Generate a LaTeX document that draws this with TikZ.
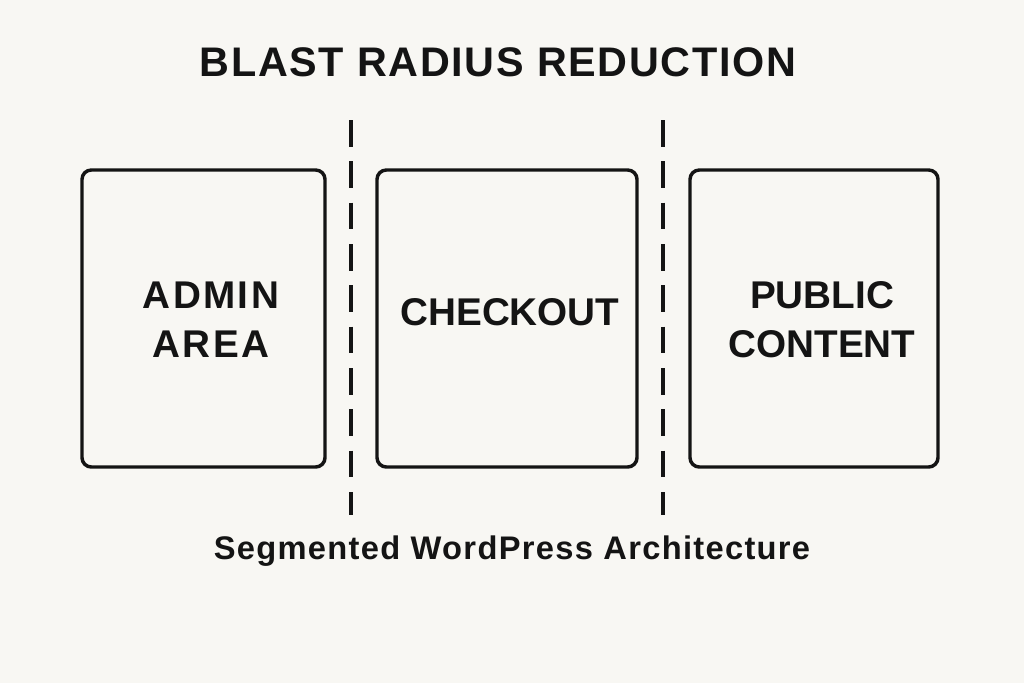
\documentclass[tikz,border=0pt]{standalone}
\usepackage{fontspec}
\setmainfont{Liberation Sans}
\definecolor{paper}{HTML}{F8F7F3}
\definecolor{ink}{HTML}{141414}
\tikzset{%
	% Style of the segment box
	Segment/.style={draw=ink,line width=2.6pt,rounded corners=7pt,inner sep=0},
	% Style of the segment label
	SegmentName/.style={font=\fontsize{29}{37}\selectfont\bfseries,text=ink,align=center},
	% Style of the separator
	Separator/.style={draw=ink,line width=2.6pt,dash pattern=on 20pt off 11pt},
}
\begin{document}
\begin{tikzpicture}[x=0.75pt,y=-0.75pt]
\fill[paper] (0,0) rectangle (1024,683);
\useasboundingbox (0,0) rectangle (1024,683);

%~~~~~~~~~~~~~~~~~~~~~~~~~~~~~~~~~~~~~~~~~~~~~~~~~~
% Titles
%~~~~~~~~~~~~~~~~~~~~~~~~~~~~~~~~~~~~~~~~~~~~~~~~~~
\node[SegmentName,font=\fontsize{31}{34}\selectfont\bfseries\addfontfeature{LetterSpace=4}] (Title) at (498, 62) {BLAST RADIUS REDUCTION};
\node[text=ink,font=\fontsize{24.5}{28}\selectfont\bfseries\addfontfeature{LetterSpace=4}] (Caption) at (512, 551) {Segmented WordPress Architecture};

%~~~~~~~~~~~~~~~~~~~~~~~~~~~~~~~~~~~~~~~~~~~~~~~~~~
% Segments
%~~~~~~~~~~~~~~~~~~~~~~~~~~~~~~~~~~~~~~~~~~~~~~~~~~
\draw[Segment] (82, 170) rectangle (325, 467);
\node[SegmentName,font=\fontsize{29}{37}\selectfont\bfseries\addfontfeature{LetterSpace=6}] (Admin) at (211, 320) {ADMIN\\AREA};

\draw[Segment] (377, 170) rectangle (637, 467);
\node[SegmentName] (Checkout) at (510, 312) {CHECKOUT};

\draw[Segment] (690, 170) rectangle (938, 467);
\node[SegmentName] (Public) at (822, 320) {PUBLIC\\CONTENT};

%~~~~~~~~~~~~~~~~~~~~~~~~~~~~~~~~~~~~~~~~~~~~~~~~~~
% Separators
%~~~~~~~~~~~~~~~~~~~~~~~~~~~~~~~~~~~~~~~~~~~~~~~~~~
\coordinate (S1top) at (351, 120);
\coordinate (S1bot) at (351, 515);
\coordinate (S2top) at (663, 120);
\coordinate (S2bot) at (663, 515);
\draw[Separator] (S1top) -- (S1bot);
\draw[Separator] (S2top) -- (S2bot);

\end{tikzpicture}
\end{document}
